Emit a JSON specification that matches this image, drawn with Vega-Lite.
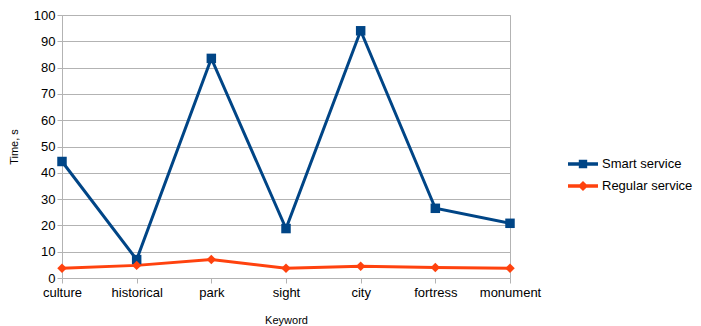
{
  "$schema": "https://vega.github.io/schema/vega-lite/v6.json",
  "width": 448,
  "height": 263,
  "autosize": {"type": "none"},
  "padding": {"left": 62, "top": 15, "right": 191, "bottom": 48},
  "background": "white",
  "config": {
    "font": "Liberation Sans",
    "view": {"stroke": "#b3b3b3", "strokeWidth": 1},
    "axis": {
      "labelFont": "Liberation Sans",
      "titleFont": "Liberation Sans",
      "labelColor": "#000000",
      "titleColor": "#000000",
      "labelFontSize": 13,
      "titleFontSize": 11,
      "titleFontWeight": "normal",
      "gridColor": "#b3b3b3",
      "tickColor": "#b3b3b3",
      "domainColor": "#b3b3b3"
    }
  },
  "data": {
    "values": [
      {"keyword": "culture", "series": "Smart service", "time": 44.3},
      {"keyword": "historical", "series": "Smart service", "time": 7.0},
      {"keyword": "park", "series": "Smart service", "time": 83.5},
      {"keyword": "sight", "series": "Smart service", "time": 18.8},
      {"keyword": "city", "series": "Smart service", "time": 94.0},
      {"keyword": "fortress", "series": "Smart service", "time": 26.5},
      {"keyword": "monument", "series": "Smart service", "time": 20.8},
      {"keyword": "culture", "series": "Regular service", "time": 3.7},
      {"keyword": "historical", "series": "Regular service", "time": 4.8},
      {"keyword": "park", "series": "Regular service", "time": 7.0},
      {"keyword": "sight", "series": "Regular service", "time": 3.7},
      {"keyword": "city", "series": "Regular service", "time": 4.5},
      {"keyword": "fortress", "series": "Regular service", "time": 4.0},
      {"keyword": "monument", "series": "Regular service", "time": 3.7}
    ]
  },
  "encoding": {
    "x": {
      "field": "keyword",
      "type": "nominal",
      "sort": ["culture", "historical", "park", "sight", "city", "fortress", "monument"],
      "scale": {"type": "point", "padding": 0},
      "axis": {
        "title": "Keyword",
        "labelAngle": 0,
        "grid": false,
        "domain": false,
        "ticks": true,
        "tickSize": 5,
        "labelPadding": 3,
        "titlePadding": 15
      }
    },
    "y": {
      "field": "time",
      "type": "quantitative",
      "scale": {"domain": [0, 100], "nice": false},
      "axis": {
        "title": "Time, s",
        "values": [0, 10, 20, 30, 40, 50, 60, 70, 80, 90, 100],
        "grid": true,
        "domain": false,
        "tickSize": 5,
        "labelPadding": 2,
        "titlePadding": 14
      }
    },
    "color": {
      "field": "series",
      "type": "nominal",
      "sort": ["Smart service", "Regular service"],
      "scale": {"domain": ["Smart service", "Regular service"], "range": ["#004586", "#ff420e"]}
    }
  },
  "layer": [
    {
      "mark": {"type": "line", "strokeWidth": 3},
      "encoding": {
        "color": {
          "field": "series",
          "type": "nominal",
          "sort": ["Smart service", "Regular service"],
          "scale": {"domain": ["Smart service", "Regular service"], "range": ["#004586", "#ff420e"]},
          "legend": {
            "title": null,
            "orient": "none",
            "legendX": 506,
            "legendY": 134,
            "labelFont": "Liberation Sans",
            "labelFontSize": 13,
            "labelColor": "#000000",
            "symbolSize": 900,
            "rowPadding": -11,
            "labelOffset": 4,
            "symbolStrokeWidth": 0,
            "encode": {
              "symbols": {
                "update": {
                  "shape": {"signal": "datum.value === 'Smart service' ? 'M-1,-0.11H1V0.11H-1Z M-0.28,-0.28H0.28V0.28H-0.28Z' : 'M-1,-0.11H1V0.11H-1Z M0,-0.34L0.34,0L0,0.34L-0.34,0Z'"},
                  "fill": {"signal": "datum.value === 'Smart service' ? '#004586' : '#ff420e'"},
                  "fillOpacity": {"value": 1},
                  "strokeWidth": {"value": 0}
                }
              }
            }
          }
        }
      }
    },
    {
      "transform": [{"filter": "datum.series === 'Smart service'"}],
      "mark": {"type": "point", "filled": true, "opacity": 1, "size": 90, "shape": "square"},
      "encoding": {
        "color": {
          "field": "series",
          "type": "nominal",
          "scale": {"domain": ["Smart service", "Regular service"], "range": ["#004586", "#ff420e"]},
          "legend": null
        }
      }
    },
    {
      "transform": [{"filter": "datum.series === 'Regular service'"}],
      "mark": {"type": "point", "filled": true, "opacity": 1, "size": 90, "shape": "diamond"},
      "encoding": {
        "color": {
          "field": "series",
          "type": "nominal",
          "scale": {"domain": ["Smart service", "Regular service"], "range": ["#004586", "#ff420e"]},
          "legend": null
        }
      }
    }
  ]
}
